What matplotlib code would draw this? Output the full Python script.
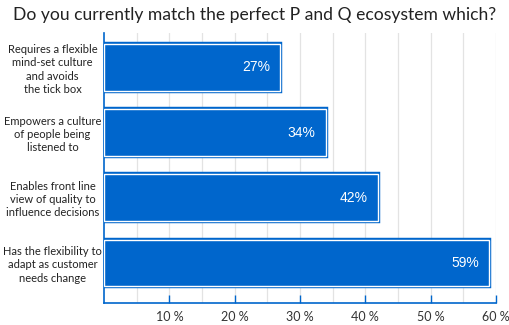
import matplotlib.pyplot as plt
import matplotlib.patheffects as pe
import numpy as np

# Survey answers, top to bottom
categories = [
    "Requires a flexible\nmind-set culture\nand avoids\nthe tick box",
    "Empowers a culture\nof people being\nlistened to",
    "Enables front line\nview of quality to\ninfluence decisions",
    "Has the flexibility to\nadapt as customer\nneeds change",
]
values = [27, 34, 42, 59]
ticks = [10, 20, 30, 40, 50, 60]
tick_labels = ["10 %", "20 %", "30 %", "40 %", "50 %", "60 %"]

blue = "#0066cc"
plt.rcParams["font.family"] = ["Lato", "DejaVu Sans"]

fig = plt.figure(figsize=(5.1, 3.25), dpi=100)
ax = fig.add_axes([0.2039, 0.0677, 0.7686, 0.8308])

y = np.arange(len(categories))
bars = ax.barh(y, values, height=0.71, color=blue, edgecolor="white", linewidth=1.0, zorder=3)
for b in bars:
    b.set_path_effects([pe.Stroke(linewidth=3.2, foreground=blue), pe.Normal()])

for yi, v in zip(y, values):
    ax.text(v - 1.6, yi, f"{v}%", color="white", ha="right", va="center",
            fontsize=10, family=["Liberation Sans", "DejaVu Sans"], zorder=4)

ax.set_xlim(0, 60)
ax.set_ylim(3.62, -0.53)

# light grid every 5%
for gx in np.arange(5, 61, 5):
    ax.axvline(gx, color="#e3e3e3", lw=0.9, zorder=1)

ax.set_xticks(ticks)
ax.set_xticklabels(tick_labels, fontsize=9, color="#333333")
ax.tick_params(axis="x", direction="in", length=6, width=1, color=blue, pad=6)
ax.set_yticks(y)
ax.set_yticklabels(categories, fontsize=8, color="#222222", ha="center", linespacing=1.25)
ax.tick_params(axis="y", length=0, pad=37)

for s in ["top", "right"]:
    ax.spines[s].set_visible(False)
for s in ["left", "bottom"]:
    ax.spines[s].set_color(blue)
    ax.spines[s].set_linewidth(1.2)

fig.text(0.5, 0.955, "Do you currently match the perfect P and Q ecosystem which?",
         ha="center", va="center", fontsize=12.6, color="#222222")

fig.savefig("out.png", dpi=100)
